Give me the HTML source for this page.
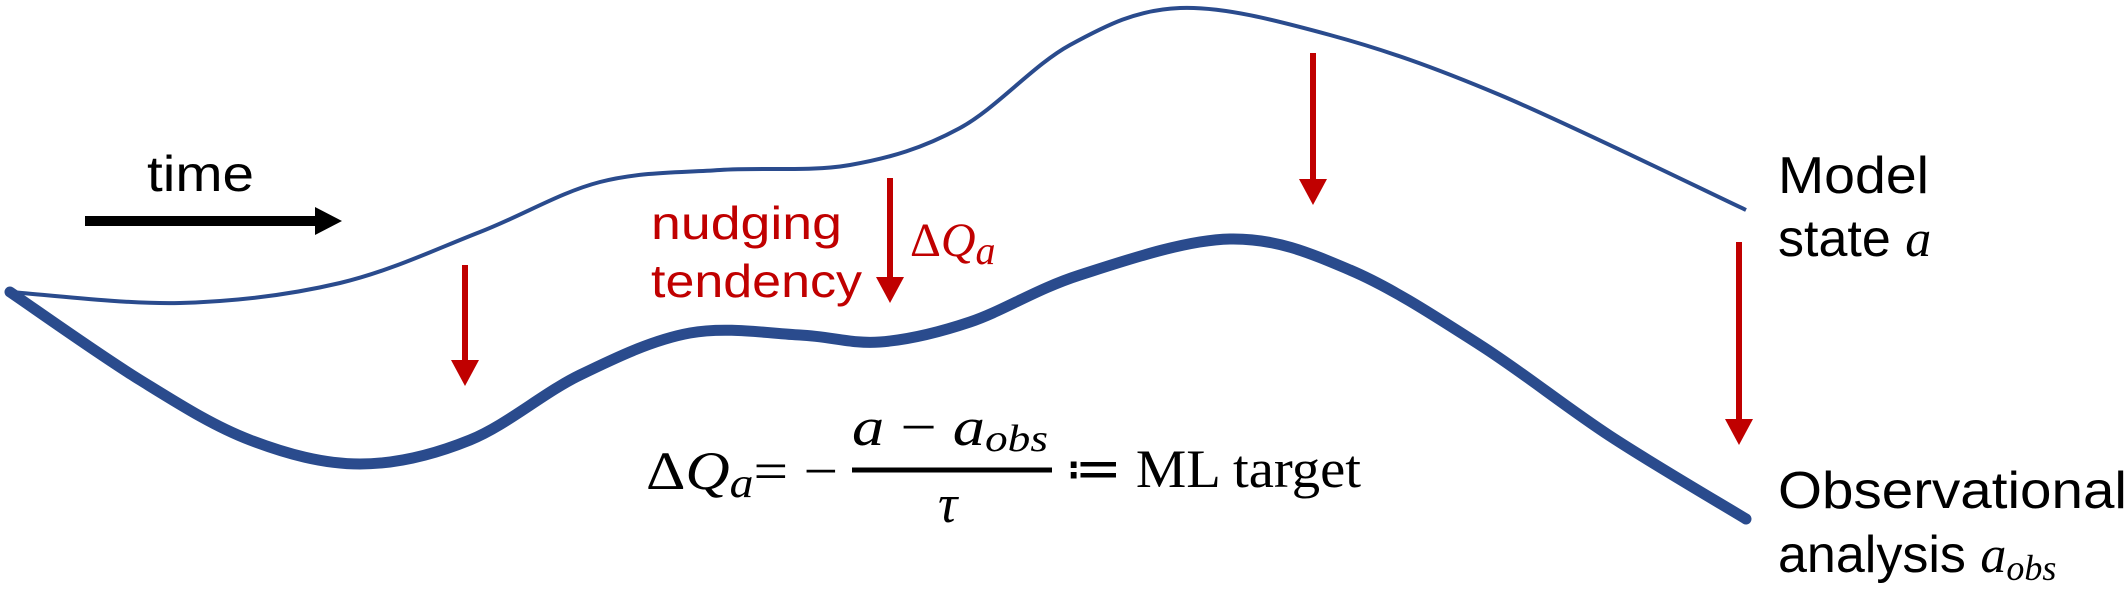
<!DOCTYPE html>
<html><head><meta charset="utf-8"><style>
html,body{margin:0;padding:0;background:#fff;}
svg{display:block;}
.sans{font-family:"Liberation Sans",sans-serif;}
.serif{font-family:"Liberation Serif",serif;}
</style></head><body>
<svg id="chart" width="2128" height="590" viewBox="0 0 2128 590" xmlns="http://www.w3.org/2000/svg">
<g id="curves"></g>
<g>
<line x1="85" y1="221" x2="318" y2="221" stroke="#000" stroke-width="10"/>
<polygon points="315,207 342,221 315,235" fill="#000"/>
</g>
<text class="sans" x="147" y="191" font-size="50" textLength="107" lengthAdjust="spacingAndGlyphs">time</text>
<g id="arrows"></g>
<text class="sans" x="651" y="239" font-size="46" fill="#c00000" textLength="191" lengthAdjust="spacingAndGlyphs">nudging</text>
<text class="sans" x="651" y="297" font-size="46" fill="#c00000" textLength="211" lengthAdjust="spacingAndGlyphs">tendency</text>
<text class="serif" x="910" y="256" font-size="48" fill="#c00000">Δ<tspan font-style="italic">Q</tspan><tspan font-style="italic" font-size="40" dy="8">a</tspan></text>
<g class="serif" fill="#000">
<text x="646" y="489" font-size="54" textLength="192" lengthAdjust="spacingAndGlyphs">Δ<tspan font-style="italic">Q</tspan><tspan font-style="italic" font-size="42" dy="8">a</tspan><tspan dy="-8">= −</tspan></text>
<text x="852" y="445" font-size="54" font-style="italic" textLength="196" lengthAdjust="spacingAndGlyphs">a <tspan font-style="normal">−</tspan> a<tspan font-size="38" dy="6">obs</tspan></text>
<line x1="852" y1="470" x2="1052" y2="470" stroke="#000" stroke-width="5"/>
<text x="938" y="522" font-size="54" font-style="italic">τ</text>
<text x="1065" y="487" font-size="54" textLength="296" lengthAdjust="spacingAndGlyphs">≔ ML target</text>
</g>
<text class="sans" x="1778" y="193" font-size="52" textLength="151" lengthAdjust="spacingAndGlyphs">Model</text>
<text class="sans" x="1778" y="256" font-size="52">state <tspan class="serif" font-style="italic">a</tspan></text>
<text class="sans" x="1778" y="508" font-size="52" textLength="349" lengthAdjust="spacingAndGlyphs">Observational</text>
<text class="sans" x="1778" y="572" font-size="52">analysis <tspan class="serif" font-style="italic">a<tspan font-size="36" dy="8">obs</tspan></tspan></text>
</svg>
<script>
const NS="http://www.w3.org/2000/svg";
const modelX=[10,180,340,480,600,720,850,960,1070,1180,1330,1500,1746];
const modelY=[292,303,283,232,182,170,165,128,45,8,35,95,210];
const obsX=[10,140,250,360,470,580,690,800,880,970,1080,1230,1350,1480,1610,1746];
const obsY=[292,380,440,464,440,375,333,335,342,322,275,239,270,345,436,519];
const arrowX=[465,890,1313,1739];
const arrowTop=[265,178,53,242];
const arrowTip=[386,303,205,445];
function pathFrom(xs,ys){
  let d="M"+xs[0]+","+ys[0];
  for(let i=0;i<xs.length-1;i++){
    const x0=xs[Math.max(i-1,0)],y0=ys[Math.max(i-1,0)];
    const x1=xs[i],y1=ys[i],x2=xs[i+1],y2=ys[i+1];
    const x3=xs[Math.min(i+2,xs.length-1)],y3=ys[Math.min(i+2,ys.length-1)];
    d+=" C"+(x1+(x2-x0)/6)+","+(y1+(y2-y0)/6)+" "+(x2-(x3-x1)/6)+","+(y2-(y3-y1)/6)+" "+x2+","+y2;
  }
  return d;
}
const g=document.getElementById("curves");
const p1=document.createElementNS(NS,"path");
p1.setAttribute("d",pathFrom(modelX,modelY));
p1.setAttribute("fill","none");p1.setAttribute("stroke","#2a4b8d");p1.setAttribute("stroke-width","4");


g.appendChild(p1);
const p2=document.createElementNS(NS,"path");
p2.setAttribute("d",pathFrom(obsX,obsY));
p2.setAttribute("fill","none");p2.setAttribute("stroke","#2a4b8d");p2.setAttribute("stroke-width","11");p2.setAttribute("stroke-linecap","round");


g.appendChild(p2);
const ag=document.getElementById("arrows");
for(let i=0;i<arrowX.length;i++){
  const x=arrowX[i],t=arrowTop[i],b=arrowTip[i],h=b-26;
  const grp=document.createElementNS(NS,"g");
  
  
  const l=document.createElementNS(NS,"line");
  l.setAttribute("x1",x);l.setAttribute("x2",x);l.setAttribute("y1",t);l.setAttribute("y2",h+2);
  l.setAttribute("stroke","#c00000");l.setAttribute("stroke-width","6");
  const pg=document.createElementNS(NS,"polygon");
  pg.setAttribute("points",(x-14)+","+h+" "+(x+14)+","+h+" "+x+","+b);
  pg.setAttribute("fill","#c00000");
  grp.appendChild(l);grp.appendChild(pg);ag.appendChild(grp);
}
</script>
</body></html>
